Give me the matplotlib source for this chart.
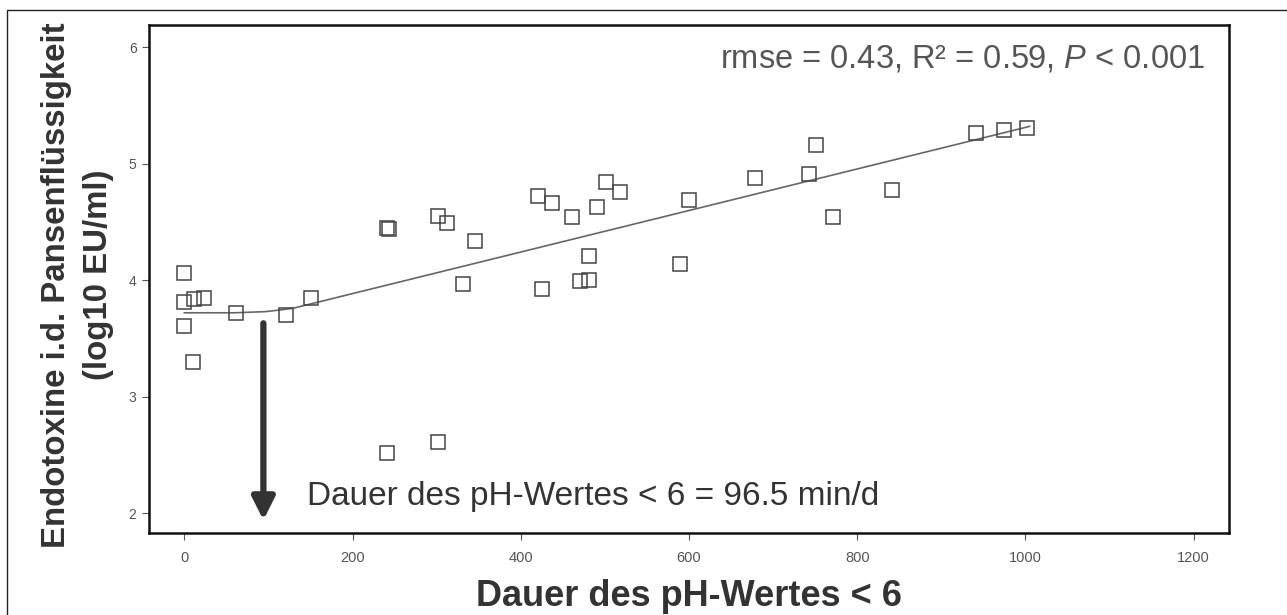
import matplotlib.pyplot as plt
from matplotlib.patches import Rectangle

plt.rcParams['font.family'] = ['Liberation Sans', 'DejaVu Sans']
plt.rcParams['mathtext.fontset'] = 'custom'
plt.rcParams['mathtext.it'] = 'Liberation Sans:italic'

# measured points (Dauer pH < 6 in min/d, log10 EU/ml)
dauer = [0, 0, 11, 23, 0, 10, 62, 121, 151,
         241, 243, 301, 312, 345, 331, 241, 301,
         421, 437, 461, 501, 518, 491, 481, 425, 470, 481,
         600, 589, 678, 743, 751, 771, 841, 941, 975, 1002]
endotoxin = [4.06, 3.81, 3.84, 3.85, 3.61, 3.30, 3.72, 3.70, 3.85,
             4.45, 4.44, 4.55, 4.49, 4.34, 3.97, 2.52, 2.61,
             4.72, 4.66, 4.54, 4.84, 4.76, 4.63, 4.21, 3.92, 3.99, 4.00,
             4.69, 4.14, 4.88, 4.91, 5.16, 4.54, 4.77, 5.26, 5.29, 5.31]

# broken-line fit
fit_x = [0, 60, 96.5, 115, 130, 1005]
fit_y = [3.72, 3.72, 3.73, 3.745, 3.76, 5.32]

breakpoint = 94
arrow_top, arrow_tip = 3.63, 1.94

fig = plt.figure(figsize=(12.87, 6.15), dpi=100)
ax = fig.add_axes([149 / 1287, 1 - 533 / 615, (1229 - 149) / 1287, (533 - 25) / 615])

ax.plot(fit_x, fit_y, color='#666666', lw=1.2, zorder=2)
ax.plot(dauer, endotoxin, ls='none', marker='s', ms=9.5, mfc='none',
        mec='#444444', mew=1.1, zorder=3)

ax.annotate('', xy=(breakpoint, arrow_tip), xytext=(breakpoint, arrow_top),
            arrowprops=dict(arrowstyle='-|>,head_width=0.34,head_length=0.68',
                            mutation_scale=20, lw=4.5, color='#333333',
                            shrinkA=0, shrinkB=0))
ax.text(146, 2.14, 'Dauer des pH-Wertes < 6 = 96.5 min/d', fontsize=24,
        color='#333333', va='center', ha='left')
ax.text(1213, 5.9, 'rmse = 0.43, R² = 0.59, $\\mathit{P}$ < 0.001', fontsize=23.5,
        color='#555555', va='center', ha='right')

ax.set_xlim(-42, 1242)
ax.set_ylim(1.83, 6.19)
ax.set_xticks([0, 200, 400, 600, 800, 1000, 1200])
ax.set_yticks([2, 3, 4, 5, 6])
ax.tick_params(colors='#555555', length=5, width=0.8)
ax.tick_params(axis='x', labelsize=10.5, pad=8)
ax.tick_params(axis='y', labelsize=10, pad=4)
for s in ax.spines.values():
    s.set_linewidth(1.8)
    s.set_color('#111111')

ax.set_xlabel('Dauer des pH-Wertes < 6', fontsize=26, fontweight='bold',
              color='#333333', labelpad=10)
fig.text(57 / 1287, 1 - 285 / 615, 'Endotoxine i.d. Pansenflüssigkeit', rotation=90,
         fontsize=23.8, fontweight='bold', color='#333333', ha='center', va='center')
fig.text(98 / 1287, 1 - 275 / 615, '(log10 EU/ml)', rotation=90,
         fontsize=23.8, fontweight='bold', color='#333333', ha='center', va='center')

# thin frame around the whole picture
fig.patches.append(Rectangle((7 / 1287, -0.1), 1.2, 1 - 10 / 615 + 0.1,
                             transform=fig.transFigure, fill=False,
                             edgecolor='#222222', lw=1))

fig.savefig('out.png', dpi=100)
